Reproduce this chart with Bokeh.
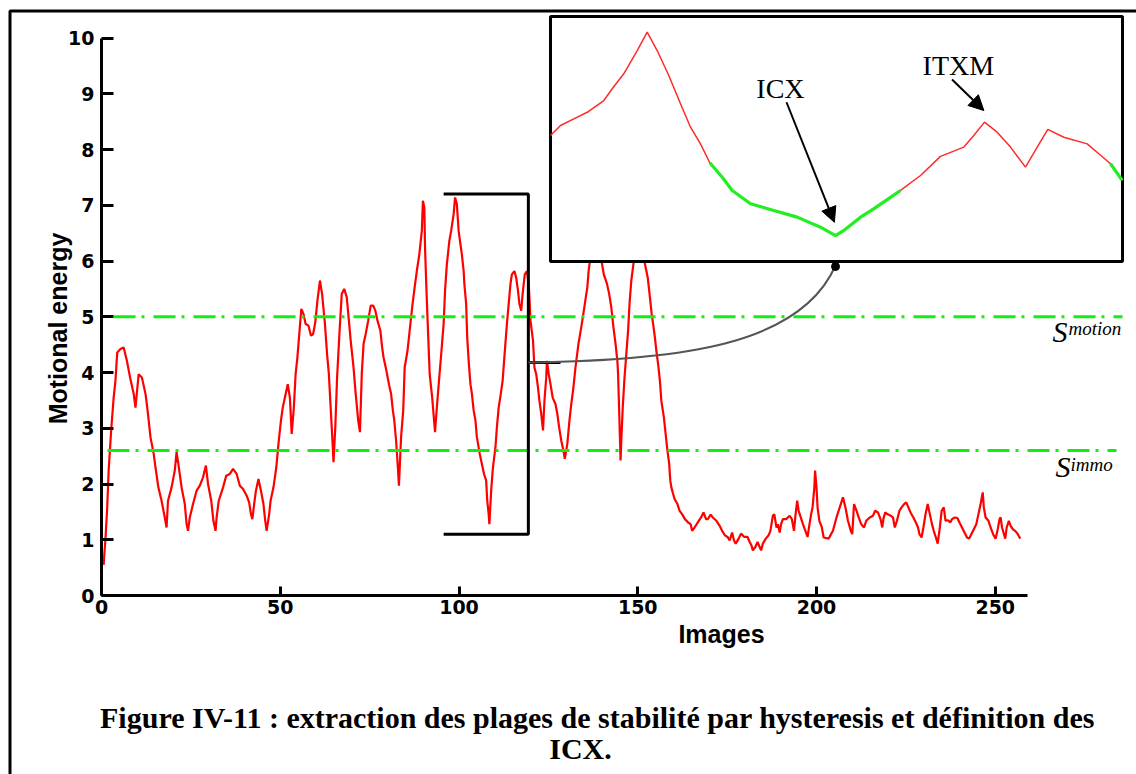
import math
from bokeh.plotting import figure
from bokeh.models import Range1d, LinearAxis, FixedTicker, Arrow, NormalHead
from bokeh.core.properties import value
from bokeh.embed import file_html
from bokeh.resources import INLINE

# ---------------- data ----------------
frames = [0.6, 0.8, 1.1, 1.6, 2.0, 2.7, 3.4, 3.9, 4.4, 5.3, 6.2, 7.1, 8.0, 9.0, 9.5, 10.4, 11.3, 12.3, 12.8,
          13.7, 14.6, 15.1, 15.9, 16.8, 17.7, 18.2, 18.6, 19.6, 20.5, 21.0, 21.5, 22.4, 23.3, 23.8, 24.2,
          24.7, 25.6, 26.6, 27.5, 28.4, 29.2, 29.8, 30.7, 31.3, 31.9, 32.2, 32.8, 34.0, 34.9, 35.9, 36.8,
          37.8, 38.7, 39.6, 40.6, 41.3, 41.8, 42.2, 42.7, 43.2, 43.9, 44.6, 45.3, 45.8, 46.2, 46.9, 47.3,
          48.1, 48.9, 49.5, 50.2, 50.7, 51.3, 52.1, 52.7, 53.2, 53.8, 54.3, 54.8, 55.4, 55.9, 56.5, 57.1,
          57.9, 58.6, 59.2, 59.8, 60.4, 61.1, 61.7, 62.5, 63.1, 63.6, 64.1, 64.6, 64.9, 65.4, 65.9, 66.6,
          67.2, 67.9, 68.6, 69.2, 69.7, 70.5, 71.1, 71.8, 72.3, 72.8, 73.3, 73.9, 74.6, 75.3, 76.0, 76.6,
          77.2, 78.0, 78.5, 78.9, 79.7, 80.4, 81.0, 81.5, 81.9, 82.4, 82.9, 83.2, 83.8, 84.4, 84.8, 85.6,
          86.2, 86.9, 87.6, 88.2, 88.9, 89.6, 89.9, 90.3, 90.5, 90.9, 91.4, 91.8, 92.5, 93.3, 93.8, 94.4,
          95.1, 95.7, 96.1, 96.6, 97.3, 97.8, 98.5, 98.9, 99.4, 99.9, 100.4, 100.8, 101.3, 101.5, 102.0,
          102.3, 102.7, 103.2, 103.6, 104.1, 104.6, 105.0, 105.8, 106.4, 107.0, 107.6, 107.9, 108.3, 108.5,
          109.0, 109.5, 110.2, 110.6, 111.1, 111.7, 112.2, 112.9, 113.4, 113.9, 114.4, 114.8, 115.5, 116.0,
          116.5, 116.9, 117.4, 117.8, 118.4, 119.0, 119.5, 119.7, 120.0, 120.7, 121.1, 121.6, 122.1, 122.5,
          123.0, 123.5, 123.9, 124.4, 124.6, 125.1, 125.6, 126.2, 127.0, 127.5, 128.0, 128.6, 129.2, 129.6,
          130.3, 130.9, 131.4, 132.0, 132.6, 133.4, 134.3, 135.2, 135.9, 136.3, 137.3, 138.2, 139.2, 140.0,
          140.5, 141.4, 142.0, 142.6, 143.2, 143.8, 144.3, 144.5, 144.8, 145.2, 145.4, 145.8, 146.3, 146.8,
          147.3, 147.7, 148.2, 148.7, 149.5, 150.5, 151.4, 152.0, 152.8, 153.4, 153.9, 154.3, 154.8, 155.2,
          155.7, 156.2, 156.6, 157.3, 157.8, 158.3, 158.8, 159.1, 159.4, 159.9, 160.3, 161.1, 161.7, 162.4,
          163.2, 164.1, 164.8, 165.2, 165.9, 166.8, 167.7, 168.4, 169.1, 169.6, 170.4, 171.0, 172.0, 172.9,
          173.6, 174.4, 175.1, 175.7, 176.4, 176.9, 177.4, 178.2, 178.9, 179.8, 180.7, 181.3, 181.8, 182.2,
          182.9, 183.5, 184.1, 184.5, 185.0, 185.8, 186.6, 187.1, 187.8, 188.2, 188.8, 189.2, 189.7, 190.1,
          190.6, 191.5, 192.5, 193.1, 193.7, 194.1, 194.6, 195.0, 195.6, 196.2, 196.9, 197.5, 197.9, 198.5,
          198.9, 199.4, 199.6, 200.0, 200.3, 200.8, 201.5, 202.0, 203.4, 204.6, 205.6, 206.5, 207.4, 208.1,
          208.8, 209.6, 210.0, 210.5, 211.2, 211.8, 212.5, 213.3, 213.9, 214.9, 215.8, 216.4, 217.2, 217.9,
          218.4, 218.7, 219.2, 219.8, 220.8, 221.4, 221.9, 222.5, 223.2, 223.8, 224.5, 225.1, 225.7, 226.3,
          227.1, 227.8, 228.4, 228.8, 229.4, 229.9, 230.5, 231.1, 231.7, 232.3, 232.8, 233.4, 233.9, 234.5,
          235.0, 235.6, 236.1, 236.8, 237.4, 237.9, 238.7, 239.4, 240.0, 240.7, 241.4, 242.1, 242.7, 243.3,
          244.0, 244.7, 245.3, 245.9, 246.5, 246.8, 247.3, 248.1, 248.7, 249.4, 250.1, 250.7, 251.2, 251.5,
          251.9, 252.3, 252.8, 253.2, 253.8, 254.3, 254.9, 255.7, 256.3, 257.0]
energy = [0.55, 0.75, 1.0, 1.58, 2.24, 2.96, 3.55, 3.85, 4.36, 4.42, 4.45, 4.21, 3.91, 3.62, 3.37, 3.97, 3.91, 3.62, 3.37,
          2.84, 2.54, 2.30, 1.94, 1.70, 1.40, 1.22, 1.70, 1.94, 2.24, 2.57, 2.36, 1.94, 1.64, 1.28, 1.16,
          1.40, 1.64, 1.88, 1.97, 2.12, 2.33, 2.00, 1.70, 1.34, 1.16, 1.40, 1.70, 1.94, 2.15, 2.18, 2.27,
          2.18, 1.97, 1.91, 1.79, 1.67, 1.46, 1.37, 1.64, 1.88, 2.09, 1.88, 1.64, 1.34, 1.16, 1.46, 1.70,
          1.94, 2.30, 2.72, 3.14, 3.37, 3.55, 3.79, 3.55, 2.90, 3.37, 3.97, 4.27, 4.75, 5.14, 5.05, 4.87,
          4.84, 4.66, 4.69, 4.90, 5.29, 5.65, 5.41, 4.87, 4.33, 3.97, 3.37, 2.78, 2.39, 3.02, 3.91, 4.75,
          5.41, 5.50, 5.35, 4.93, 4.57, 4.09, 3.62, 3.14, 2.93, 3.97, 4.51, 4.69, 4.93, 5.20, 5.20, 5.11,
          4.93, 4.75, 4.45, 4.27, 4.03, 3.79, 3.62, 3.32, 3.14, 2.78, 2.30, 1.97, 2.84, 3.32, 4.09, 4.39,
          4.75, 5.17, 5.53, 5.82, 6.12, 6.54, 7.08, 6.96, 6.24, 5.47, 4.63, 3.97, 3.55, 2.93, 3.37, 3.85,
          4.39, 4.87, 5.47, 5.94, 6.36, 6.54, 6.84, 7.14, 7.02, 6.54, 6.30, 6.12, 5.82, 5.59, 5.23,
          4.63, 4.21, 3.79, 3.62, 3.32, 3.14, 2.84, 2.54, 2.36, 2.18, 2.06, 1.70, 1.46, 1.28,
          1.88, 2.30, 2.66, 3.02, 3.37, 3.62, 3.85, 4.45, 4.87, 5.23, 5.59, 5.76, 5.82, 5.70,
          5.47, 5.23, 5.11, 5.41, 5.76, 5.82, 5.59, 5.35, 4.93, 4.57, 4.09, 3.97, 3.73, 3.49,
          3.26, 2.96, 3.49, 3.91, 4.21, 3.97, 3.79, 3.55, 3.43, 3.26, 3.02, 2.78, 2.60, 2.45,
          2.72, 3.14, 3.43, 3.73, 4.10, 4.51, 4.85, 5.23, 5.53, 5.85, 6.30, 6.50, 6.20, 5.95,
          5.76, 5.59, 5.41, 5.17, 4.81, 4.51, 4.21, 3.97, 3.32, 2.42, 2.78, 3.37, 3.91, 4.33,
          4.75, 5.23, 5.65, 5.90, 6.30, 6.40, 6.15, 5.95, 5.70, 5.35, 5.05, 4.87, 4.63, 4.39,
          4.15, 3.85, 3.49, 3.20, 2.90, 2.60, 2.36, 2.06, 1.94, 1.82, 1.73, 1.64, 1.52, 1.46,
          1.37, 1.31, 1.28, 1.16, 1.22, 1.31, 1.40, 1.49, 1.37, 1.37, 1.45, 1.40, 1.34, 1.25,
          1.16, 1.08, 1.05, 0.99, 1.13, 0.99, 0.93, 1.02, 1.11, 1.05, 1.05, 0.96, 0.90, 0.81,
          0.87, 0.96, 0.87, 0.81, 0.93, 1.02, 1.08, 1.16, 1.43, 1.46, 1.22, 1.28, 1.13, 1.28,
          1.37, 1.37, 1.43, 1.37, 1.16, 1.43, 1.70, 1.52, 1.40, 1.28, 1.16, 1.05, 1.22, 1.46,
          1.58, 1.94, 2.24, 1.94, 1.58, 1.34, 1.22, 1.04, 1.02, 1.16, 1.40, 1.58, 1.76, 1.58,
          1.34, 1.16, 1.10, 1.64, 1.52, 1.40, 1.28, 1.22, 1.34, 1.40, 1.43, 1.52, 1.49, 1.37,
          1.22, 1.37, 1.49, 1.46, 1.43, 1.40, 1.22, 1.34, 1.52, 1.58, 1.64, 1.67, 1.58, 1.49,
          1.40, 1.31, 1.22, 1.10, 1.04, 1.22, 1.46, 1.64, 1.46, 1.28, 1.16, 1.04, 0.93, 1.22,
          1.52, 1.58, 1.34, 1.35, 1.31, 1.37, 1.40, 1.39, 1.31, 1.22, 1.13, 1.04, 1.02, 1.10,
          1.19, 1.28, 1.46, 1.64, 1.85, 1.58, 1.40, 1.34, 1.22, 1.10, 1.02, 1.19, 1.37, 1.40,
          1.22, 1.13, 1.02, 1.22, 1.34, 1.25, 1.19, 1.15, 1.10, 1.02]

x_ticks = [0, 50, 100, 150, 200, 250]
y_ticks = [0, 1, 2, 3, 4, 5, 6, 7, 8, 9, 10]
s_motion = 5.0          # hysteresis high threshold
s_immo = 2.6            # hysteresis low threshold
zoom_frames = [95.7, 119.4]   # bracketed window shown in the inset
zoom_energy = [1.1, 7.2]

# inset curve (local 0..100 coordinates of the inset box)
inset_u = [0.0, 1.75, 4.07, 6.42, 9.32, 10.79, 12.81, 15.16, 16.9, 18.65, 20.68, 22.73, 24.48, 26.22,
           27.85, 30.02, 31.77, 34.97, 39.04, 43.13, 47.2, 49.83, 51.28, 54.2, 56.5, 59.44, 61.19,
           64.69, 68.18, 72.26, 74.0, 75.87, 78.09, 80.42, 83.04, 85.09, 86.94, 89.74, 93.83, 95.86,
           97.9, 99.95]
inset_v = [51.4, 55.5, 58.2, 60.9, 65.7, 70.5, 76.6, 86.1, 93.6, 86.1, 75.9, 64.4, 54.8, 48.0,
           40.3, 34.4, 29.0, 23.6, 20.8, 18.1, 14.0, 10.6, 12.7, 18.1, 21.5, 26.2, 29.0,
           35.1, 42.9, 46.7, 51.4, 56.9, 52.8, 46.7, 38.5, 46.7, 53.9, 50.7, 48.0, 44.0,
           39.9, 33.1]
inset_stable = [(27.85, 61.19), (97.9, 100.0)]
icx_point = (49.83, 10.6)
itxm_point = (75.87, 56.9)

caption = ["Figure IV-11 : extraction des plages de stabilité par hysteresis et définition des", "ICX."]

# ---------------- geometry (page pixels; Bokeh's page has no body margin) ----------------
W, H, M = 1136, 774, 0
X_PX0, X_PER = 101.0, 3.575     # page px of frame 0, px per frame
Y_PX0, Y_PER = 595.0, 55.75     # page px of energy 0, px per unit
x_start = (M - X_PX0) / X_PER
x_end = x_start + W / X_PER
y_end = (Y_PX0 - M) / Y_PER
y_start = y_end - H / Y_PER


def fx(px):
    return (px - X_PX0) / X_PER


def fy(py):
    return (Y_PX0 - py) / Y_PER


# inset box placement
U_PX0, U_PER = 550.0, 5.72
V_PX0, V_PER = 261.0, 2.45
iu_start = (M - U_PX0) / U_PER
iu_end = iu_start + W / U_PER
iv_end = (V_PX0 - M) / V_PER
iv_start = iv_end - H / V_PER

p = figure(width=W, height=H, x_range=Range1d(x_start, x_end), y_range=Range1d(y_start, y_end),
           x_axis_type=None, y_axis_type=None, toolbar_location=None, output_backend="svg",
           min_border=0)
p.outline_line_color = None
p.background_fill_color = "white"
p.border_fill_color = "white"
p.extra_x_ranges = {"ix": Range1d(iu_start, iu_end)}
p.extra_y_ranges = {"iy": Range1d(iv_start, iv_end)}

# axes fixed at the origin
xaxis = LinearAxis(fixed_location=0, bounds=(0, 259), ticker=FixedTicker(ticks=x_ticks))
yaxis = LinearAxis(fixed_location=0, bounds=(0, 10), ticker=FixedTicker(ticks=y_ticks))
for ax, tin, stand in ((xaxis, 9, 4), (yaxis, 12, 7)):
    ax.axis_line_width = 3
    ax.axis_line_color = "black"
    ax.major_tick_line_width = 3
    ax.major_tick_in = tin
    ax.major_tick_out = 0
    ax.minor_tick_line_color = None
    ax.major_label_standoff = stand
    ax.major_label_text_font = "DejaVu Sans"
    ax.major_label_text_font_style = "bold"
    ax.major_label_text_font_size = "19px"
    ax.major_label_text_color = "black"
p.add_layout(xaxis, "below")
p.add_layout(yaxis, "left")

# main series
p.line(frames, energy, line_color="#ff0000", line_width=2.2)

# thresholds
dash = "22 6 3 9"
p.line([fx(113), fx(1122)], [s_motion, s_motion], line_color="#11ee11", line_width=3, line_dash=dash)
p.line([fx(107), fx(1116)], [s_immo, s_immo], line_color="#11ee11", line_width=3, line_dash=dash)

serif = value("Liberation Serif")
p.text(x=[fx(1052)], y=[fy(331)], text=["S"], text_font=serif, text_font_style="italic",
       text_font_size="30px", text_baseline="middle", text_align="left", text_color="black")
p.text(x=[fx(1068)], y=[fy(328)], text=["motion"], text_font=serif, text_font_style="italic",
       text_font_size="19px", text_baseline="middle", text_align="left", text_color="black")
p.text(x=[fx(1055)], y=[fy(466)], text=["S"], text_font=serif, text_font_style="italic",
       text_font_size="30px", text_baseline="middle", text_align="left", text_color="black")
p.text(x=[fx(1070)], y=[fy(464)], text=["immo"], text_font=serif, text_font_style="italic",
       text_font_size="19px", text_baseline="middle", text_align="left", text_color="black")

# bracket around the zoomed window
zx0, zx1 = zoom_frames
zy0, zy1 = zoom_energy
p.line([zx0, zx1, zx1, zx0], [zy1, zy1, zy0, zy0], line_color="black", line_width=3)

# connector to the inset
icx_px = U_PX0 + icx_point[0] * U_PER
cy = fy(362)
p.line([zx1, fx(560)], [cy, cy], line_color="black", line_width=3)
p.bezier(x0=[zx1], y0=[cy], x1=[fx(icx_px)], y1=[fy(V_PX0 + 4)],
         cx0=[fx(680)], cy0=[fy(360)], cx1=[fx(800)], cy1=[fy(345)],
         line_color="#555555", line_width=2)
p.scatter([fx(icx_px)], [fy(V_PX0 + 5)], size=8, color="black")

# inset box
p.quad(left=[0], right=[100], bottom=[0], top=[100], x_range_name="ix", y_range_name="iy",
       fill_color="white", line_color="black", line_width=3)
p.line(inset_u, inset_v, x_range_name="ix", y_range_name="iy", line_color="#ff2a2a", line_width=1.5)
for a, b in inset_stable:
    su = [u for u in inset_u if a <= u <= b]
    sv = [v for u, v in zip(inset_u, inset_v) if a <= u <= b]
    p.line(su, sv, x_range_name="ix", y_range_name="iy", line_color="#22ee22", line_width=3.2)

p.text(x=[40.2], y=[70.6], text=["ICX"], x_range_name="ix", y_range_name="iy", text_font=serif,
       text_font_size="28px", text_align="center", text_baseline="middle", text_color="black")
p.text(x=[71.3], y=[80.0], text=["ITXM"], x_range_name="ix", y_range_name="iy", text_font=serif,
       text_font_size="28px", text_align="center", text_baseline="middle", text_color="black")
p.add_layout(Arrow(end=NormalHead(size=15, fill_color="black", line_color="black"),
                   x_start=41.26, y_start=65.0, x_end=icx_point[0] - 0.2, y_end=icx_point[1] + 5.4,
                   x_range_name="ix", y_range_name="iy", line_width=2, line_color="black"))
p.add_layout(Arrow(end=NormalHead(size=15, fill_color="black", line_color="black"),
                   x_start=70.2, y_start=74.3, x_end=itxm_point[0] - 0.1, y_end=itxm_point[1] + 4.7,
                   x_range_name="ix", y_range_name="iy", line_width=2, line_color="black"))

# axis titles
sans = value("Liberation Sans")
p.text(x=[fx(57)], y=[fy(328)], text=["Motional energy"], angle=math.pi / 2, text_font=sans,
       text_font_style="bold", text_font_size="25px", text_align="center", text_baseline="middle",
       text_color="black")
p.text(x=[fx(721)], y=[fy(633)], text=["Images"], text_font=sans, text_font_style="bold",
       text_font_size="25px", text_align="center", text_baseline="middle", text_color="black")

# caption
p.text(x=[fx(597), fx(580)], y=[fy(717), fy(748)], text=caption, text_font=serif,
       text_font_style="bold", text_font_size="30px", text_align="center", text_baseline="middle",
       text_color="black")

# outer frame (left and top edges)
p.line([fx(9.5), fx(9.5), x_end], [y_start, fy(10.5), fy(10.5)], line_color="black", line_width=3)

open("out.html", "w").write(file_html(p, INLINE))
